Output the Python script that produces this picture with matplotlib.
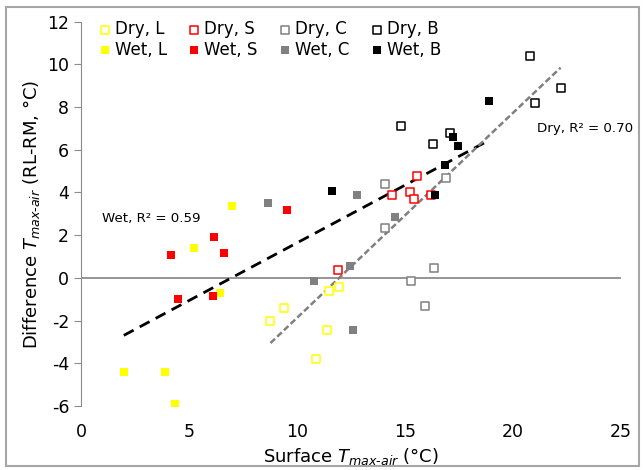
import numpy as np
import matplotlib
matplotlib.use("Agg")
import matplotlib.pyplot as plt
from matplotlib.patches import Rectangle

plt.rcParams["axes.unicode_minus"] = False

# Data: (surface T, difference T) per group
dry_l_x = [8.77, 9.41, 10.89, 11.37, 11.47, 11.96]
dry_l_y = [-2.01, -1.42, -3.81, -2.42, -0.63, -0.42]
dry_s_x = [11.91, 14.40, 15.25, 15.43, 15.54, 16.20]
dry_s_y = [0.37, 3.89, 4.00, 3.69, 4.78, 3.89]
dry_c_x = [14.09, 14.09, 15.26, 15.94, 16.33, 16.91]
dry_c_y = [4.39, 2.36, -0.14, -1.33, 0.47, 4.67]
dry_b_x = [14.80, 16.31, 17.10, 20.80, 20.99, 22.20]
dry_b_y = [7.09, 6.28, 6.78, 10.37, 8.17, 8.88]

wet_l_x = [1.98, 3.90, 4.37, 5.25, 6.44, 6.97]
wet_l_y = [-4.42, -4.42, -5.92, 1.40, -0.72, 3.39]
wet_s_x = [4.17, 4.49, 6.10, 6.16, 6.64, 9.52]
wet_s_y = [1.08, -1.01, -0.83, 1.90, 1.17, 3.18]
wet_c_x = [8.64, 10.79, 12.46, 12.57, 12.77, 14.55]
wet_c_y = [3.50, -0.14, 0.58, -2.42, 3.89, 2.87]
wet_b_x = [11.60, 16.39, 16.87, 17.24, 17.44, 18.89]
wet_b_y = [4.08, 3.89, 5.28, 6.59, 6.18, 8.29]

group_names = ["L", "S", "C", "B"]
group_colors = ["#FFFF00", "#FF0000", "#808080", "#000000"]
dry_x = [dry_l_x, dry_s_x, dry_c_x, dry_b_x]
dry_y = [dry_l_y, dry_s_y, dry_c_y, dry_b_y]
wet_x = [wet_l_x, wet_s_x, wet_c_x, wet_b_x]
wet_y = [wet_l_y, wet_s_y, wet_c_y, wet_b_y]

wet_label = "Wet, R\u00b2 = 0.59"
dry_label = "Dry, R\u00b2 = 0.70"

fig = plt.figure(figsize=(6.43, 4.70), dpi=100)
ax = fig.add_axes([0.126, 0.136, 0.84, 0.818])

# figure border
fig.patches.append(Rectangle((0.009, 0.008), 0.985, 0.977, transform=fig.transFigure,
                             fill=False, edgecolor="#A6A6A6", linewidth=1.5))

ms = 40
for name, col, dx, dy, wx, wy in zip(group_names, group_colors, dry_x, dry_y, wet_x, wet_y):
    ax.scatter(dx, dy, s=ms, marker="s", facecolors="white", edgecolors=col,
               linewidths=1.1, label=f"Dry, {name}", zorder=3)
    ax.scatter(wx, wy, s=ms, marker="s", color=col, linewidths=0,
               label=f"Wet, {name}", zorder=3)

# linear trend lines (Excel style, over data range)
all_dx = np.concatenate([np.array(v) for v in dry_x])
all_dy = np.concatenate([np.array(v) for v in dry_y])
all_wx = np.concatenate([np.array(v) for v in wet_x])
all_wy = np.concatenate([np.array(v) for v in wet_y])

pw = np.polyfit(all_wx, all_wy, 1)
xw = np.array([all_wx.min(), all_wx.max()])
ax.plot(xw, np.polyval(pw, xw), color="black", lw=2.0, ls=(0, (4, 2.5)), zorder=2)

pd_ = np.polyfit(all_dx, all_dy, 1)
xd = np.array([all_dx.min(), all_dx.max()])
ax.plot(xd, np.polyval(pd_, xd), color="#808080", lw=1.8, ls=(0, (2.5, 1.2)), zorder=2)

ax.axhline(0, color="#8C8C8C", lw=1.3, zorder=1)

ax.text(0.97, 2.8, wet_label, fontsize=9.6, va="center", ha="left")
ax.text(21.1, 6.98, dry_label, fontsize=9.6, va="center", ha="left", clip_on=False)

ax.set_xlim(0, 25)
ax.set_ylim(-6, 12)
ax.set_xticks(np.arange(0, 26, 5))
ax.set_yticks(np.arange(-6, 13, 2))
for s in ["top", "right", "bottom"]:
    ax.spines[s].set_visible(False)
ax.spines["left"].set_color("#8C8C8C")
ax.tick_params(axis="y", colors="#8C8C8C", labelcolor="black", labelsize=12.5,
               length=5, direction="out")
ax.tick_params(axis="x", length=0, labelsize=12.5, pad=12)

ax.set_xlabel(r"Surface $T_{max\text{-}air}$ (°C)", fontsize=13)
ax.set_ylabel(r"Difference $T_{max\text{-}air}$ (RL-RM, °C)", fontsize=13)

ax.legend(loc="upper left", bbox_to_anchor=(0.016, 1.03), ncol=4, frameon=False,
          fontsize=12, handlelength=0.6, handletextpad=0.3, columnspacing=1.35,
          labelspacing=0.15, markerscale=0.8, borderaxespad=0.2)

fig.savefig("out.png", dpi=100)
